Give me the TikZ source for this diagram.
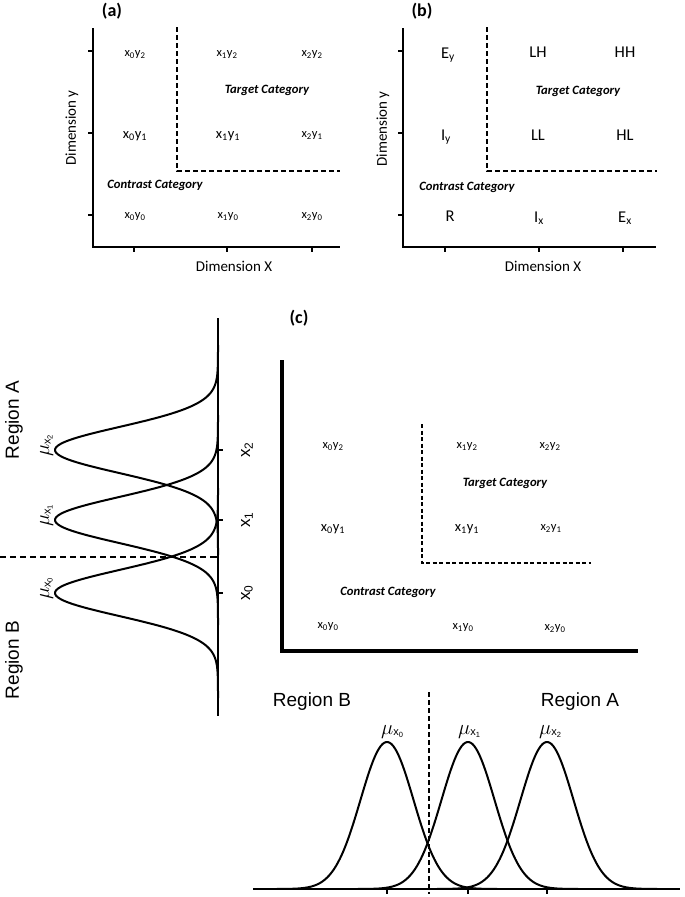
\documentclass[tikz,border=0pt]{standalone}
\usepackage{fontspec}
\setmainfont{Carlito}
\newfontfamily\arialf{Liberation Sans}
\newcommand\lsub[1]{\textsubscript{#1}}
\newcommand\mulab[1]{{\fontsize{22}{22}\selectfont$\mu$}\raisebox{-1.5pt}{\arialf\fontsize{11}{11}\selectfont x\raisebox{-2pt}{\fontsize{7.5}{7.5}\selectfont #1}}}
\begin{document}
\begin{tikzpicture}[x=1pt,y=-1pt,
  axisline/.style={line width=1.8pt},
  thickaxis/.style={line width=4pt},
  catline/.style={line width=2.2pt, dash pattern=on 5pt off 3pt},
  gauss/.style={line width=2pt},
  divline/.style={line width=1.2pt, dash pattern=on 6pt off 4pt},
  lbl/.style={font=\fontsize{12.5}{12.5}\selectfont, inner sep=0pt},
  lblbig/.style={font=\fontsize{14.5}{14.5}\selectfont, inner sep=0pt},
  letlbl/.style={font=\fontsize{16.5}{16.5}\selectfont, inner sep=0pt},
  catlbl/.style={font=\fontsize{12.7}{12.7}\selectfont\bfseries\itshape, inner sep=0pt},
  dimlbl/.style={font=\fontsize{15}{15}\selectfont, inner sep=0pt},
  panel/.style={font=\fontsize{18}{18}\selectfont\bfseries, inner sep=0pt},
  region/.style={font=\arialf\fontsize{19}{19}\selectfont, inner sep=0pt},
  xlab/.style={font=\arialf\fontsize{17}{17}\selectfont, inner sep=0pt},
]
\useasboundingbox[fill=white] (0,0) rectangle (685,897);

% ================= Panel (a) =================
\node[panel] (pa) at (112,11) {(a)};
\coordinate (aTop) at (93,28);
\coordinate (aO) at (93,247);
\coordinate (aR) at (340,247);
\draw[axisline] (aTop) -- (aO) -- (aR);
\foreach \yy in {51,133,215} \draw[axisline] (88,\yy) -- (93,\yy);
\foreach \xx in {134,227,312} \draw[axisline] (\xx,247) -- (\xx,252);
\coordinate (aDt) at (177,27);
\coordinate (aDc) at (177,171);
\coordinate (aDr) at (340,171);
\draw[catline] (aDt) -- (aDc) -- (aDr);
\node[lbl] (a02) at (135,55) {x\lsub{0}y\lsub{2}};
\node[lbl] (a12) at (227,55) {x\lsub{1}y\lsub{2}};
\node[lbl] (a22) at (312,55) {x\lsub{2}y\lsub{2}};
\node[catlbl] (atc) at (267,90) {Target Category};
\node[lblbig] (a01) at (135,136) {x\lsub{0}y\lsub{1}};
\node[lblbig] (a11) at (228,136) {x\lsub{1}y\lsub{1}};
\node[lbl] (a21) at (312,136) {x\lsub{2}y\lsub{1}};
\node[catlbl] (acc) at (155,185) {Contrast Category};
\node[lbl] (a00) at (135,217) {x\lsub{0}y\lsub{0}};
\node[lbl] (a10) at (228,217) {x\lsub{1}y\lsub{0}};
\node[lbl] (a20) at (312,217) {x\lsub{2}y\lsub{0}};
\node[dimlbl] (adx) at (234,266) {Dimension X};
\node[dimlbl, rotate=90] (ady) at (72,128) {Dimension y};

% ================= Panel (b) =================
\node[panel] (pb) at (422,11) {(b)};
\coordinate (bTop) at (403,28);
\coordinate (bO) at (403,247);
\coordinate (bR) at (656,247);
\draw[axisline] (bTop) -- (bO) -- (bR);
\foreach \yy in {51,133,215} \draw[axisline] (398,\yy) -- (403,\yy);
\foreach \xx in {445,539,623} \draw[axisline] (\xx,247) -- (\xx,252);
\coordinate (bDt) at (487,27);
\coordinate (bDc) at (487,171);
\coordinate (bDr) at (657,171);
\draw[catline] (bDt) -- (bDc) -- (bDr);
\node[letlbl] (bEy) at (448,55) {E\lsub{y}};
\node[letlbl] (bLH) at (538,52) {LH};
\node[letlbl] (bHH) at (625,52) {HH};
\node[catlbl] (btc) at (578,91) {Target Category};
\node[letlbl] (bIy) at (446,137) {I\lsub{y}};
\node[letlbl] (bLL) at (538,135) {LL};
\node[letlbl] (bHL) at (625,135) {HL};
\node[catlbl] (bcc) at (467,187) {Contrast Category};
\node[letlbl] (bR0) at (450,216) {R};
\node[letlbl] (bIx) at (539,218) {I\lsub{x}};
\node[letlbl] (bEx) at (625,218) {E\lsub{x}};
\node[dimlbl] (bdx) at (543,266) {Dimension X};
\node[dimlbl, rotate=90] (bdy) at (383,129) {Dimension y};

% ================= Panel (c) =================
\node[panel] (pc) at (299,318) {(c)};
\coordinate (cTop) at (282,360);
\coordinate (cO) at (282,651);
\coordinate (cR) at (638,651);
\draw[thickaxis] (cTop) -- (cO) -- (cR);
\coordinate (cDt) at (422,424);
\coordinate (cDc) at (422,563);
\coordinate (cDr) at (591,563);
\draw[catline, line width=1.8pt, dash pattern=on 4pt off 2.5pt] (cDt) -- (cDc) -- (cDr);
\node[lbl] (c02) at (333,447) {x\lsub{0}y\lsub{2}};
\node[lbl] (c12) at (467,447) {x\lsub{1}y\lsub{2}};
\node[lbl] (c22) at (550,447) {x\lsub{2}y\lsub{2}};
\node[catlbl] (ctc) at (505,483) {Target Category};
\node[lblbig] (c01) at (333,529) {x\lsub{0}y\lsub{1}};
\node[lblbig] (c11) at (467,529) {x\lsub{1}y\lsub{1}};
\node[lbl] (c21) at (551,529) {x\lsub{2}y\lsub{1}};
\node[catlbl] (ccc) at (388,592) {Contrast Category};
\node[lbl] (c00) at (328,627) {x\lsub{0}y\lsub{0}};
\node[lbl] (c10) at (463,628) {x\lsub{1}y\lsub{0}};
\node[lbl] (c20) at (555,629) {x\lsub{2}y\lsub{0}};

% ================= Left rotated Gaussians =================
\coordinate (lTop) at (218,318);
\coordinate (lBot) at (218,716);
\draw[line width=1.6pt] (lTop) -- (lBot);
\foreach \c in {450,520,593} {
  \draw[line width=1.4pt] (218,\c) -- (223,\c);
  \draw[gauss] plot[domain=\c-105:\c+105, samples=120, variable=\t, smooth]
    ({218-163*exp(-0.5*((\t-\c)/23)^2)}, \t);
}
\draw[line width=1.4pt] (213,557) -- (218,557);
\coordinate (lDl) at (0,557);
\coordinate (lDr) at (218,557);
\draw[divline] (lDl) -- (lDr);
\node[xlab, rotate=90] (lx2) at (247,450) {x\textsubscript{2}};
\node[xlab, rotate=90] (lx1) at (247,520) {x\textsubscript{1}};
\node[xlab, rotate=90] (lx0) at (247,593) {x\textsubscript{0}};
\node[rotate=90, anchor=base west, inner sep=0pt] (lm2) at (49,457) {\mulab{2}};
\node[rotate=90, anchor=base west, inner sep=0pt] (lm1) at (49,527) {\mulab{1}};
\node[rotate=90, anchor=base west, inner sep=0pt] (lm0) at (49,600) {\mulab{0}};
\node[region, rotate=90] (lRA) at (14,420) {Region A};
\node[region, rotate=90] (lRB) at (14,660) {Region B};

% ================= Bottom Gaussians =================
\coordinate (bl) at (253,889);
\coordinate (br) at (680,889);
\draw[line width=1.6pt] (bl) -- (br);
\foreach \c in {387,468,547} {
  \draw[line width=1.4pt] (\c,889) -- (\c,894);
  \draw[gauss] plot[domain=\c-110:\c+110, samples=120, variable=\t, smooth]
    (\t, {889-147*exp(-0.5*((\t-\c)/26.5)^2)});
}
\coordinate (gDt) at (429,692);
\coordinate (gDb) at (429,894);
\draw[divline, dash pattern=on 5pt off 3pt] (gDt) -- (gDb);
\node[anchor=base west, inner sep=0pt] (gm0) at (381,734) {\mulab{0}};
\node[anchor=base west, inner sep=0pt] (gm1) at (458,734) {\mulab{1}};
\node[anchor=base west, inner sep=0pt] (gm2) at (539,734) {\mulab{2}};
\node[region] (gRB) at (312,702) {Region B};
\node[region] (gRA) at (580,702) {Region A};
\end{tikzpicture}
\end{document}
